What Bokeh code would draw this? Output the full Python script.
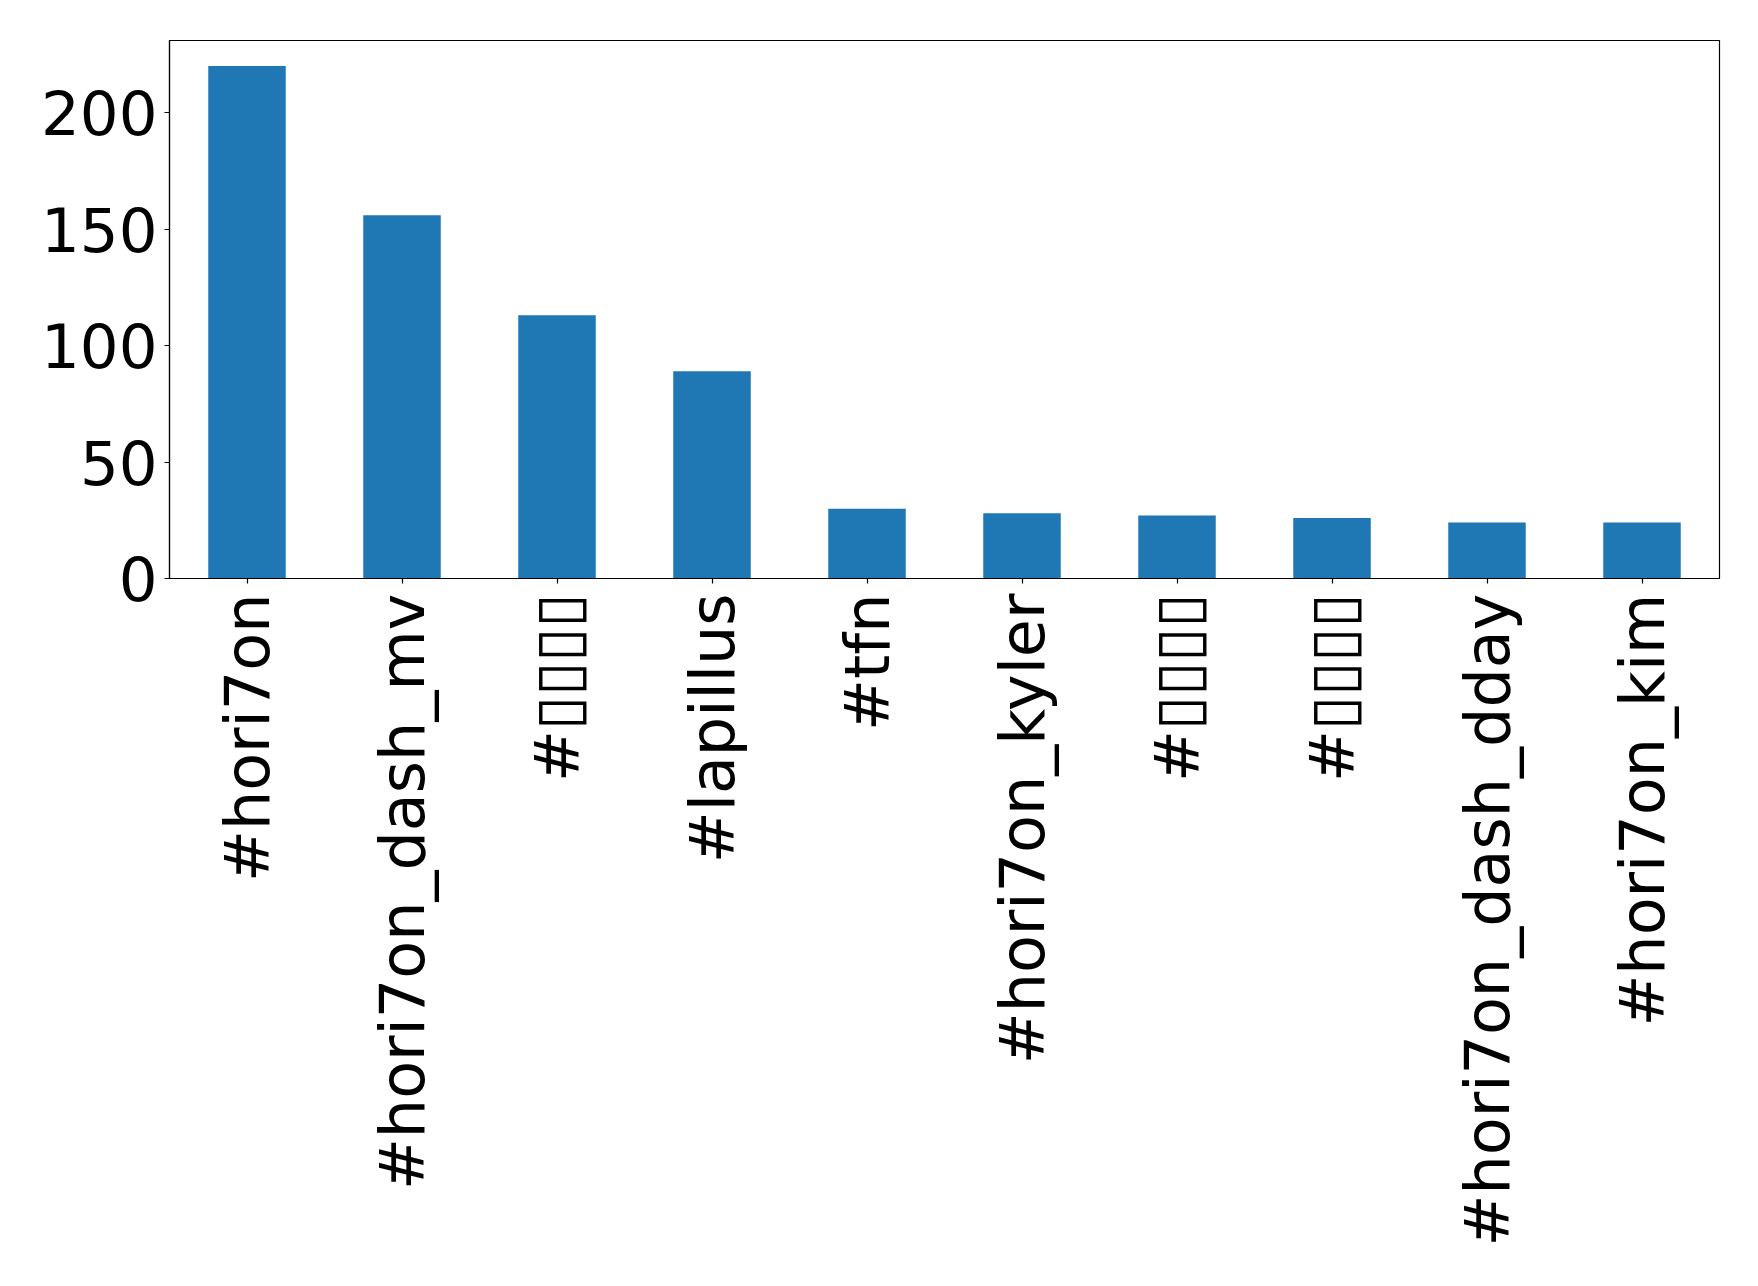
from bokeh.plotting import figure
from bokeh.models import Range1d, FixedTicker
from bokeh.embed import file_html
from bokeh.resources import INLINE
import math

hashtags = ["#hori7on", "#hori7on_dash_mv", "#▯▯▯▯", "#lapillus", "#tfn",
            "#hori7on_kyler", "#▯▯▯▯", "#▯▯▯▯", "#hori7on_dash_dday", "#hori7on_kim"]
counts = [220, 156, 113, 89, 30, 28, 27, 26, 24, 24]
y_ticks = [0, 50, 100, 150, 200]

positions = list(range(len(hashtags)))

p = figure(x_range=Range1d(-0.5, len(hashtags) - 0.5),
           y_range=Range1d(0, 231),
           frame_width=1550, frame_height=538,
           min_border_left=169, min_border_right=23,
           min_border_top=40, min_border_bottom=680,
           output_backend="svg", toolbar_location=None)

p.vbar(x=positions, top=counts, width=0.5, color="#1f77b4", line_color=None)

p.xgrid.visible = False
p.ygrid.visible = False
p.outline_line_color = "black"
p.outline_line_width = 1.2
p.outline_line_alpha = 1
p.background_fill_color = "white"
p.border_fill_color = "white"

for ax in (p.xaxis, p.yaxis):
    ax.axis_line_color = "black"
    ax.axis_line_width = 1.2
    ax.major_tick_line_color = "black"
    ax.major_tick_line_width = 1.2
    ax.major_tick_out = 5
    ax.major_tick_in = 0
    ax.minor_tick_line_color = None
    ax.major_label_text_font = "DejaVu Sans"
    ax.major_label_text_color = "black"

p.yaxis.major_label_text_font_size = "61px"
p.xaxis.major_label_text_font_size = "62px"
p.yaxis.ticker = FixedTicker(ticks=y_ticks)
p.yaxis.major_label_standoff = 7
p.xaxis.ticker = FixedTicker(ticks=positions)
p.xaxis.major_label_overrides = {i: lab for i, lab in zip(positions, hashtags)}
p.xaxis.major_label_orientation = math.pi / 2
p.xaxis.major_label_standoff = 10

open("out.html", "w").write(file_html(p, INLINE))
